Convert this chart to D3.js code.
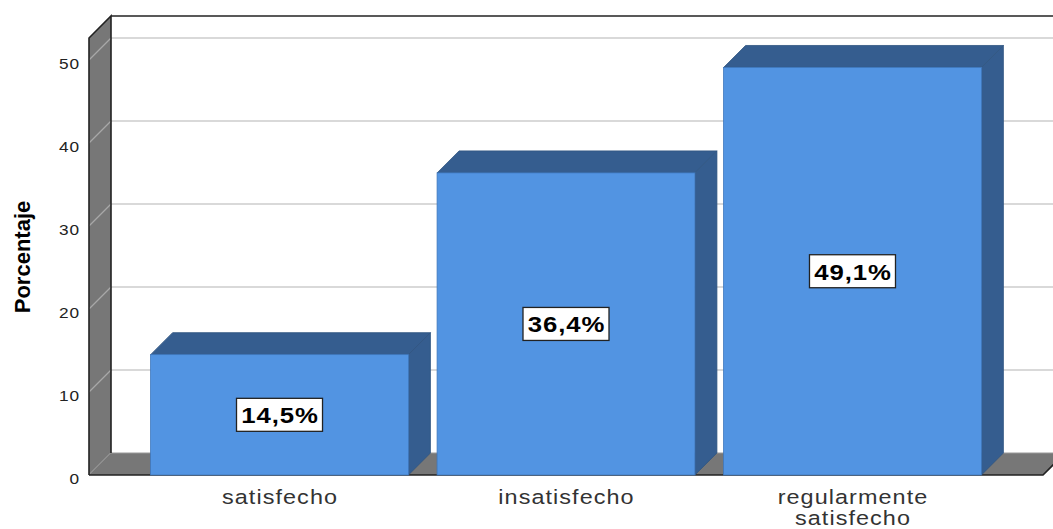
<!DOCTYPE html>
<html><head><meta charset="utf-8">
<script src="https://cdn.jsdelivr.net/npm/d3@7/dist/d3.min.js"></script>
<style>body{margin:0;background:#fff;}svg{display:block;}</style>
</head><body>
<svg id="c" width="1053" height="529"></svg>
<script>
const categories = [["satisfecho"], ["insatisfecho"], ["regularmente", "satisfecho"]];
const values = [14.5, 36.4, 49.1];
const valueLabels = ["14,5%", "36,4%", "49,1%"];
const yTicks = [0, 10, 20, 30, 40, 50];
const yTitle = "Porcentaje";
const yMax = 52.65;

const svg = d3.select("#c");
const D = 22; // depth offset
const x = d3.scaleBand().domain(d3.range(categories.length)).range([89, 1043]).paddingInner(0.1).paddingOuter(0.215);
const y = d3.scaleLinear().domain([0, 50]).range([475, 60]);

const frontC = "#5294e2", darkC = "#355d8f", grayC = "#777777", edge = "#222";
const FONT = "Liberation Sans, Arial, sans-serif";

// back wall gridlines
svg.append("g").selectAll("line").data(yTicks.filter(t => t > 0)).join("line")
  .attr("x1", 89 + D).attr("x2", 1053).attr("y1", d => y(d) - D).attr("y2", d => y(d) - D)
  .attr("stroke", "#cccccc").attr("stroke-width", 1.6);
// top frame line
svg.append("line").attr("x1", 89 + D).attr("x2", 1053).attr("y1", y(yMax) - D).attr("y2", y(yMax) - D)
  .attr("stroke", edge).attr("stroke-width", 1.6);

// left wall
const wx = 89;
svg.append("path").attr("d", `M${wx},${y(0)} L${wx},${y(yMax)} L${wx + D},${y(yMax) - D} L${wx + D},${y(0) - D} Z`)
  .attr("fill", grayC).attr("stroke", "none");
svg.append("g").selectAll("line").data(yTicks).join("line")
  .attr("x1", wx).attr("x2", wx + D).attr("y1", d => y(d)).attr("y2", d => y(d) - D)
  .attr("stroke", "#a8a8a8").attr("stroke-width", 1.2);
// floor
svg.append("path").attr("d", `M${wx},${y(0)} L${wx + D},${y(0) - D} L${1043 + D},${y(0) - D} L1043,${y(0)} Z`)
  .attr("fill", grayC).attr("stroke", "none");
svg.append("line").attr("x1", wx + D).attr("x2", 1043 + D).attr("y1", y(0) - D).attr("y2", y(0) - D)
  .attr("stroke", "#999").attr("stroke-width", 1);
// wall edges
svg.append("path").attr("d", `M${wx},${y(0)} L${wx},${y(yMax)} L${wx + D},${y(yMax) - D} L${wx + D},${y(0) - D}`)
  .attr("fill", "none").attr("stroke", edge).attr("stroke-width", 1.6);
svg.append("path").attr("d", `M${wx},${y(0)} L1043,${y(0)} L${1043 + D},${y(0) - D}`)
  .attr("fill", "none").attr("stroke", edge).attr("stroke-width", 1.6);

// y tick labels
svg.append("g").selectAll("text").data(yTicks).join("text")
  .attr("transform", d => `translate(80,${y(d) + 8.5}) scale(1.15,1)`)
  .attr("text-anchor", "end").attr("font-family", FONT)
  .attr("font-size", 15).attr("letter-spacing", "0.8px").attr("fill", "#222").text(d => d);

// y title
svg.append("text").attr("transform", "translate(30,257) rotate(-90)")
  .attr("text-anchor", "middle").attr("font-family", FONT)
  .attr("font-size", 22).attr("font-weight", "bold").attr("fill", "#000").text(yTitle);

// bars
const bars = svg.append("g").selectAll("g").data(values).join("g");
bars.each(function (v, i) {
  const g = d3.select(this);
  const x0 = x(i), x1 = x(i) + x.bandwidth(), yt = y(v), yb = y(0);
  g.append("path").attr("d", `M${x1},${yt} L${x1 + D},${yt - D} L${x1 + D},${yb - D} L${x1},${yb} Z`)
    .attr("fill", darkC).attr("stroke", "#2f5480").attr("stroke-width", 0.8);
  g.append("path").attr("d", `M${x0},${yt} L${x0 + D},${yt - D} L${x1 + D},${yt - D} L${x1},${yt} Z`)
    .attr("fill", darkC).attr("stroke", "#2f5480").attr("stroke-width", 0.8);
  g.append("rect").attr("x", x0).attr("y", yt).attr("width", x.bandwidth()).attr("height", yb - yt)
    .attr("fill", frontC).attr("stroke", "#3f78bd").attr("stroke-width", 0.8);
  // value label
  const cx = x0 + x.bandwidth() / 2, cy = (yt + yb) / 2;
  const w = 86, h = 33;
  g.append("rect").attr("x", cx - w / 2).attr("y", cy - h / 2).attr("width", w).attr("height", h)
    .attr("fill", "#fff").attr("stroke", "#222").attr("stroke-width", 1.3);
  g.append("text").attr("transform", `translate(${cx + 0.5},${cy}) scale(1.12,1)`)
    .attr("dy", "0.36em").attr("text-anchor", "middle")
    .attr("font-family", FONT).attr("font-weight", "bold")
    .attr("font-size", 23).attr("letter-spacing", "0.8px").attr("fill", "#000").text(valueLabels[i]);
});

// category labels
categories.forEach((lines, i) => {
  const cx = x(i) + x.bandwidth() / 2;
  lines.forEach((line, j) => {
    svg.append("text").attr("transform", `translate(${cx + 0.5},${504 + j * 21}) scale(1.2,1)`)
      .attr("text-anchor", "middle").attr("font-family", FONT)
      .attr("font-size", 19.5).attr("letter-spacing", "0.9px").attr("fill", "#333").text(line);
  });
});
</script>
</body></html>
